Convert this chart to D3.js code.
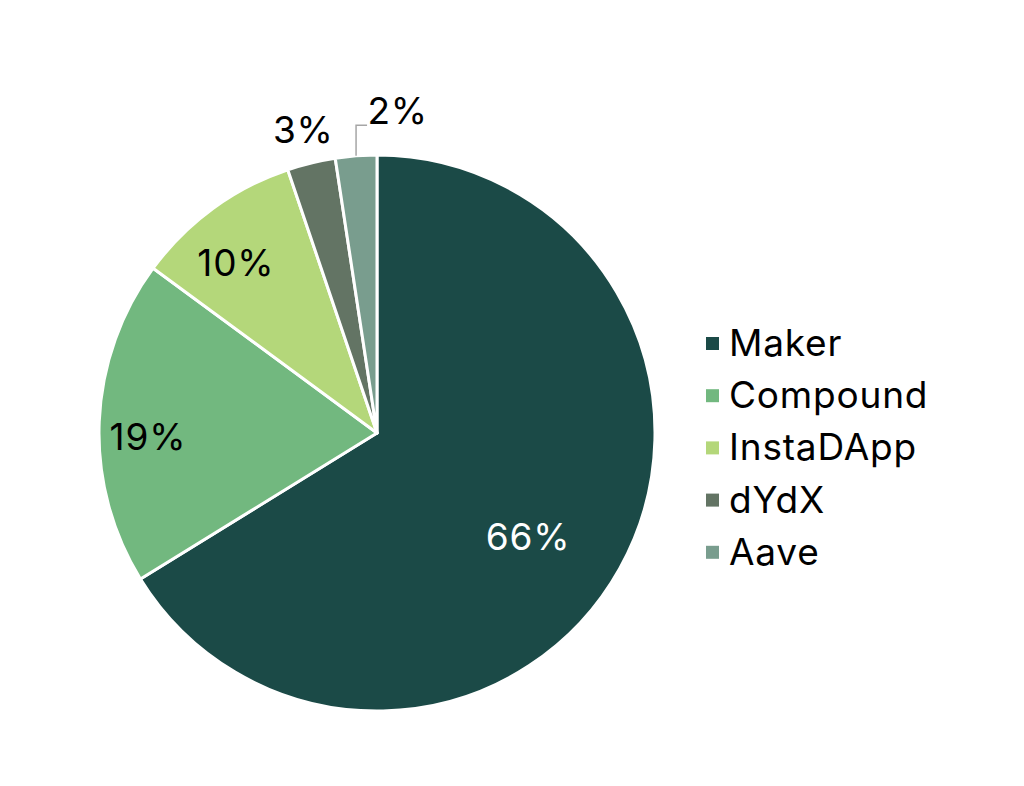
<!DOCTYPE html>
<html>
<head>
<meta charset="utf-8">
<script src="https://cdn.jsdelivr.net/npm/d3@7"></script>
<style>
  body { margin: 0; background: #fff; }
  text { font-family: Inter, "Open Sans", sans-serif; letter-spacing: 0.8px; }
</style>
</head>
<body>
<div id="pie_chart"></div>
<script>
// chart data
var categories = ['Maker', 'Compound', 'InstaDApp', 'dYdX', 'Aave'];
var shares = [66.2, 18.9, 9.7, 2.8, 2.4];
var colours = ['#1b4a47', '#72b87f', '#b4d77a', '#637464', '#799d8e'];

function draw_pie(cats, values) {
    var width = 1024, height = 786;
    var cx = 377, cy = 433, radius = 278;

    var svg = d3.select('#pie_chart')
        .append('svg')
        .attr('width', width)
        .attr('height', height)

    var g = svg.append('g')
        .attr('transform', 'translate(' + cx + ',' + cy + ')');

    var color = d3.scaleOrdinal()
        .domain(cats)
        .range(colours)

    var data = cats.map(function (c, i) { return { name: c, value: values[i] }; });

    var pie = d3.pie()
        .sort(null)
        .value(function (d) { return d.value; });

    var arcs = pie(data);

    var arc = d3.arc().innerRadius(0).outerRadius(radius);

    g.selectAll('path')
        .data(arcs)
        .enter().append('path')
        .attr('d', arc)
        .attr('fill', function (d) { return color(d.data.name); })
        .attr('stroke', '#fff')
        .attr('stroke-width', 3)
        .attr('stroke-linejoin', 'round');

    // where in the slice the label sits (fraction of sweep, fraction of radius)
    var labelF = [0.523, 0.45, 0.40, 0.5, 0.5];
    var labelR = [0.66, 0.824, 0.795, 1.12, 1.16];
    function pos(d, f, k) {
        var a = d.startAngle + (d.endAngle - d.startAngle) * f;
        return [Math.sin(a) * radius * k, -Math.cos(a) * radius * k];
    }

    var fmt = function (v) { return Math.round(v) + '%'; };

    g.selectAll('text.lbl')
        .data(arcs)
        .enter().append('text')
        .attr('class', 'lbl')
        .attr('x', function (d, i) {
            var p = pos(d, labelF[i], labelR[i]);
            return i == 4 ? p[0] + 45 : p[0];
        })
        .attr('y', function (d, i) { return pos(d, labelF[i], labelR[i])[1]; })
        .attr('dy', '0.35em')
        .attr('text-anchor', 'middle')
        .attr('font-size', 37)
        .attr('fill', function (d, i) { return i == 0 ? '#fff' : '#000'; })
        .text(function (d) { return fmt(d.data.value); });

    // leader line for the small Aave slice
    var last = arcs[4];
    var p0 = pos(last, 0.5, 1.0);
    var p1 = pos(last, 0.5, 1.11);
    g.append('path')
        .attr('d', 'M' + p0[0] + ',' + p0[1] + 'L' + p0[0] + ',' + p1[1] + 'L' + (p0[0] + 11) + ',' + p1[1])
        .attr('fill', 'none')
        .attr('stroke', '#a6a6a6')
        .attr('stroke-width', 1.5);

    // legend
    var legend = svg.append('g')
        .attr('transform', 'translate(706,343)');

    var rows = legend.selectAll('g')
        .data(cats)
        .enter().append('g')
        .attr('transform', function (d, i) { return 'translate(0,' + (i * 52.2) + ')'; });

    rows.append('rect')
        .attr('x', 0)
        .attr('y', -6)
        .attr('width', 13)
        .attr('height', 13)
        .attr('fill', function (d) { return color(d); });

    rows.append('text')
        .attr('x', 23)
        .attr('y', 0)
        .attr('dy', '0.35em')
        .attr('font-size', 37)
        .attr('fill', '#000')
        .text(function (d) { return d; });
}

draw_pie(categories, shares)
</script>
</body>
</html>
